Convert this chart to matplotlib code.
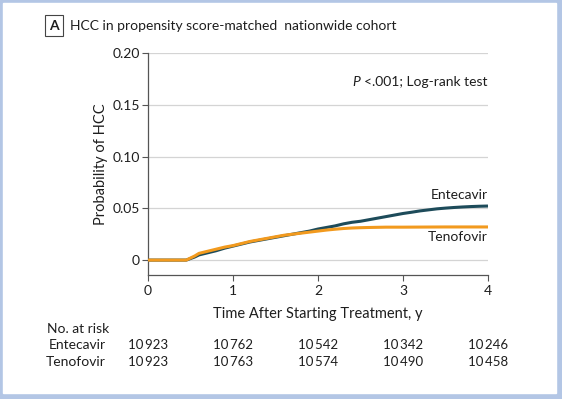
import matplotlib.pyplot as plt
from matplotlib.patches import Rectangle

plt.rcParams['font.family'] = ['Lato', 'DejaVu Sans']

# cumulative incidence of HCC
ent_t = [0, 0.45, 0.5, 0.55, 0.6, 0.7, 0.8, 0.9, 1.0, 1.1, 1.2, 1.3, 1.4, 1.5, 1.6, 1.7,
         1.8, 1.9, 2.0, 2.1, 2.2, 2.3, 2.4, 2.5, 2.6, 2.7, 2.8, 2.9, 3.0, 3.1, 3.2, 3.3,
         3.4, 3.5, 3.6, 3.7, 3.8, 3.9, 4.0]
ent_p = [0, 0, 0.0015, 0.003, 0.005, 0.007, 0.009, 0.0115, 0.0135, 0.0155, 0.0175, 0.019,
         0.0205, 0.022, 0.0235, 0.025, 0.0265, 0.028, 0.030, 0.0315, 0.033, 0.035, 0.0365,
         0.0375, 0.039, 0.0405, 0.042, 0.0435, 0.045, 0.0462, 0.0475, 0.0485, 0.0495,
         0.0502, 0.0508, 0.0513, 0.0517, 0.052, 0.0522]
ten_t = [0, 0.45, 0.5, 0.55, 0.6, 0.7, 0.8, 0.9, 1.0, 1.1, 1.2, 1.3, 1.4, 1.5, 1.6, 1.7,
         1.8, 1.9, 2.0, 2.1, 2.2, 2.3, 2.4, 2.5, 2.6, 2.8, 3.0, 3.5, 4.0]
ten_p = [0, 0, 0.002, 0.004, 0.0065, 0.0085, 0.0105, 0.0125, 0.014, 0.016, 0.018, 0.0195,
         0.021, 0.0225, 0.024, 0.025, 0.026, 0.027, 0.028, 0.029, 0.0298, 0.0305, 0.031,
         0.0313, 0.0315, 0.0318, 0.0318, 0.032, 0.032]

x_ticks = [0, 1, 2, 3, 4]
y_ticks = [0, 0.05, 0.10, 0.15, 0.20]
y_labels = ['0', '0.05', '0.10', '0.15', '0.20']

risk_groups = ['Entecavir', 'Tenofovir']
risk_ent = [10923, 10762, 10542, 10342, 10246]
risk_ten = [10923, 10763, 10574, 10490, 10458]

ent_color = '#1d4b5a'
ten_color = '#f29a1e'
txt = '#1e1e1e'

fig = plt.figure(figsize=(5.62, 3.99), dpi=100)
W, H = 562, 399
# light blue frame around the white panel
fig.patches.append(Rectangle((0, 0), 1, 1, transform=fig.transFigure, color='#b3c6e5', zorder=-2))
fig.patches.append(Rectangle((3 / W, 6 / H), (W - 9) / W, (H - 9) / H,
                             transform=fig.transFigure, color='white', zorder=-1))

ax = fig.add_axes([148 / W, 124 / H, 340 / W, 222 / H])
ax.set_xlim(0, 4)
ax.set_ylim(-0.0144, 0.20)

for y in y_ticks:
    ax.axhline(y, color='#d4d4d4', lw=0.9, zorder=0)

ax.plot(ent_t, ent_p, color=ent_color, lw=2.2, zorder=3, solid_capstyle='butt')
ax.plot(ten_t, ten_p, color=ten_color, lw=2.2, zorder=4, solid_capstyle='butt')

for s in ['top', 'right']:
    ax.spines[s].set_visible(False)
for s in ['left', 'bottom']:
    ax.spines[s].set_color('#555555')
    ax.spines[s].set_linewidth(0.9)

ax.set_xticks(x_ticks)
ax.set_yticks(y_ticks)
ax.set_yticklabels(y_labels)
ax.tick_params(length=4.5, width=0.8, color='#555555', labelsize=10, labelcolor=txt)
ax.tick_params(axis='y', pad=1.5)
ax.tick_params(axis='x', pad=3)

ax.set_xlabel('Time After Starting Treatment, y', fontsize=10.5, color=txt, labelpad=7)
ax.set_ylabel('Probability of HCC', fontsize=10.5, color=txt, labelpad=3)

ax.text(4, 0.0627, 'Entecavir', ha='right', va='center', fontsize=10, color=txt)
ax.text(4, 0.0225, 'Tenofovir', ha='right', va='center', fontsize=10, color=txt)

ptxt = ax.text(3.99, 0.1716, '<.001; Log-rank test', ha='right', va='center',
               fontsize=10, color=txt)
ax.annotate('P ', xy=(0, 0.5), xycoords=ptxt, ha='right', va='center',
            fontsize=10, color=txt, style='italic')

# panel title
fig.text(54 / W, 1 - 25.5 / H, 'A', ha='center', va='center', fontsize=10, color=txt,
         fontweight='bold',
         bbox=dict(boxstyle='square,pad=0.3', fc='white', ec='#444444', lw=0.8))
fig.text(70 / W, 1 - 25.5 / H, 'HCC in propensity score-matched  nationwide cohort',
         ha='left', va='center', fontsize=10, color=txt)

# number at risk table, numbers centred under the x ticks
fig.text(47 / W, 1 - 329 / H, 'No. at risk', ha='left', va='center', fontsize=10, color=txt)
for row, (name, vals) in enumerate(zip(risk_groups, [risk_ent, risk_ten])):
    yy = 1 - (345 + 17.5 * row) / H
    fig.text(106 / W, yy, name, ha='right', va='center', fontsize=10, color=txt)
    for xv, v in zip(x_ticks, vals):
        xf = fig.transFigure.inverted().transform(ax.transData.transform((xv, 0)))[0]
        s = f'{v:,}'.replace(',', '\u2009')
        fig.text(xf, yy, s, ha='center', va='center', fontsize=9.5, color=txt)

fig.savefig('out.png', dpi=100)
